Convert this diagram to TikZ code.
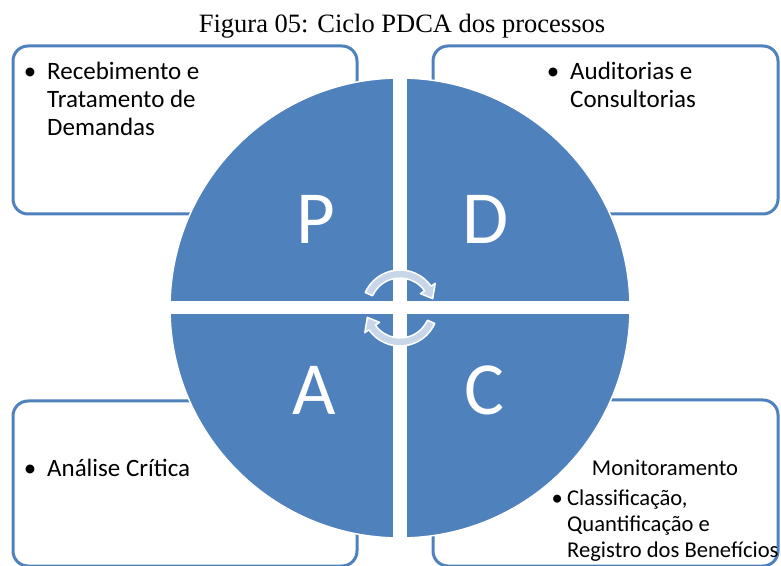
\documentclass[tikz,border=0pt]{standalone}
\usepackage{fontspec}
\setmainfont{Carlito}
\newfontfamily\capfont{Liberation Serif}
\usetikzlibrary{positioning}
\definecolor{pdcablue}{HTML}{4F81BD}
\definecolor{cycfill}{HTML}{C9D6EA}
\tikzset{
  qbox/.style    = {draw=pdcablue, line width=3pt, rounded corners=15pt, fill=white},
  wheel/.style   = {circle, fill=pdcablue, draw=white, line width=1.5pt, minimum size=460pt, inner sep=0pt},
  gap/.style     = {draw=white, line width=13pt},
  letter/.style  = {text=white, inner sep=0pt, font=\fontsize{75}{75}\selectfont},
  itemtxt/.style = {anchor=base west, inner sep=0pt, font=\fontsize{25}{28}\selectfont},
  smalltxt/.style= {inner sep=0pt, font=\fontsize{22.6}{26}\selectfont},
  cyc/.style     = {fill=cycfill, draw=white, line width=1.5pt, line join=round},
}

\begin{document}
\begin{tikzpicture}[x=1pt, y=1pt]
\clip (0,0) rectangle (781,565);

\node[font=\capfont\fontsize{26.5}{30}\selectfont, anchor=base] (title) at (402,532)
  {Figura 05: Ciclo PDCA dos processos};

%% the four text boxes
\draw[qbox] (13,351) rectangle (357,519);
\draw[qbox] (433,351) rectangle (778,519);
\draw[qbox] (13,-1) rectangle (357,164);
\draw[qbox] (433,-1) rectangle (778,165);

%% wheel split in four
\node[wheel] (wheel) at (400,257) {};
\draw[gap, line width=14pt] (wheel.north) -- (wheel.south);
\draw[gap] (wheel.west) -- (wheel.east);

\node[letter] (lp) at (316,346) {P};
\node[letter] (ld) at (486,346) {D};
\node[letter] (la) at (314,175) {A};
\node[letter] (lc) at (484,175) {C};

%% cycle arrows
\begin{scope}[shift={(wheel.center)}]
  \draw[cyc] (156:38) arc[start angle=156, end angle=35, radius=38pt] -- (35:43)
    -- (16:34) -- (35:25) -- (35:30) arc[start angle=35, end angle=156, radius=30pt] -- cycle;
  \draw[cyc] (-24:38) arc[start angle=-24, end angle=-145, radius=38pt] -- (-145:43)
    -- (-164:34) -- (-145:25) -- (-145:30) arc[start angle=-145, end angle=-24, radius=30pt] -- cycle;
\end{scope}

%% box texts
\node[itemtxt] (ptxt) at (13,485)
  {\makebox[34pt]{\textbullet}\begin{tabular}[t]{@{}l@{}}Recebimento e\\Tratamento de\\Demandas\end{tabular}};
\node[itemtxt] (dtxt) at (536,485)
  {\makebox[34pt]{\textbullet}\begin{tabular}[t]{@{}l@{}}Auditorias e\\Consultorias\end{tabular}};
\node[itemtxt] (atxt) at (13,89)
  {\makebox[34pt]{\textbullet}Análise Crítica};
\node[smalltxt, anchor=base] (ctitle) at (665,90) {Monitoramento};
\node[smalltxt, anchor=base west] (ctxt) at (547,60)
  {\makebox[20pt]{\textbullet}\begin{tabular}[t]{@{}l@{}}Classificação,\\Quantificação e\\Registro dos Benefícios\end{tabular}};

\end{tikzpicture}
\end{document}
